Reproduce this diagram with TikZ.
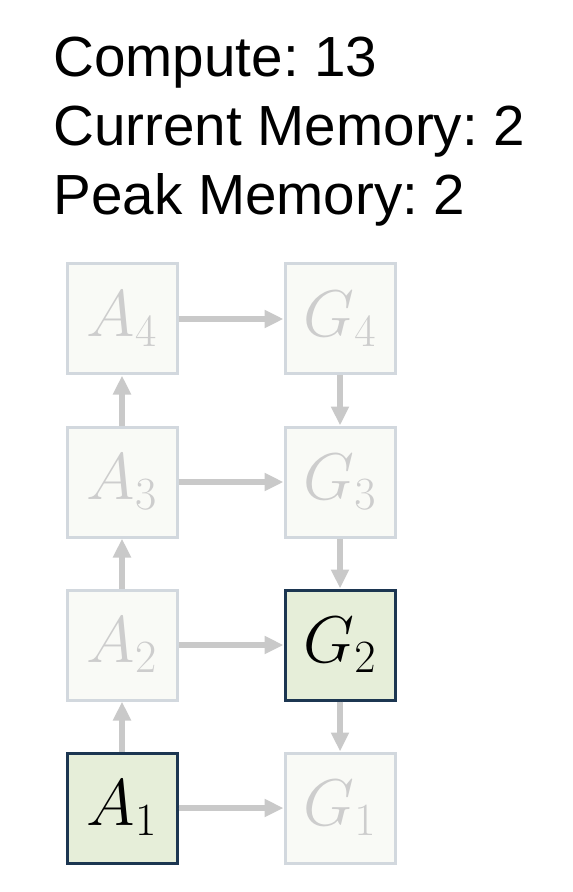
\RequirePackage{fix-cm}
\documentclass[tikz,border=0pt]{standalone}
\usepackage[no-math]{fontspec}
\setmainfont{Liberation Sans}
\frenchspacing
\usepackage{tikz}
\usetikzlibrary{arrows.meta,positioning}
\definecolor{fadefill}{HTML}{F9FAF6}
\definecolor{fadeline}{HTML}{D2D8DE}
\definecolor{fadetext}{HTML}{CDCDCD}
\definecolor{livefill}{HTML}{E6EED9}
\definecolor{liveline}{HTML}{1C3651}
\definecolor{flowgrey}{HTML}{C9C9C9}

\begin{document}
\begin{tikzpicture}[x=0.5pt,y=-0.5pt,>={Triangle[length=9.5pt,width=8.5pt]},
  cell/.style={draw=fadeline,fill=fadefill,text=fadetext,line width=1.5pt,
    minimum size=55pt,inner sep=0pt,font=\fontsize{33}{33}\selectfont},
  live/.style={cell,draw=liveline,fill=livefill,text=black},
  flow/.style={->,draw=flowgrey,fill=flowgrey,line width=2.75pt},
  counter/.style={anchor=base west,inner sep=0pt,font=\fontsize{28.3}{28.3}\selectfont},
  node distance=25pt and 52.5pt]
  \useasboundingbox (0,0) rectangle (572,892);

  % Counters
  \node[counter] (compute) at (53,77) {Compute: 13};
  \node[counter] (current) at (53,146) {Current Memory: 2};
  \node[counter] (peak) at (53,215) {Peak Memory: 2};

  % Forward column
  \node[live] (a1) at (122,808) {$A_1$};
  \node[cell,above=of a1] (a2) {$A_2$};
  \node[cell,above=of a2] (a3) {$A_3$};
  \node[cell,above=of a3] (a4) {$A_4$};

  % Backward column
  \node[cell,right=of a1] (g1) {$G_1$};
  \node[live,right=of a2] (g2) {$G_2$};
  \node[cell,right=of a3] (g3) {$G_3$};
  \node[cell,right=of a4] (g4) {$G_4$};

  % Arrows
  \draw[flow] (a1) -- (a2);
  \draw[flow] (a2) -- (a3);
  \draw[flow] (a3) -- (a4);
  \draw[flow] (a1) -- (g1);
  \draw[flow] (a2) -- (g2);
  \draw[flow] (a3) -- (g3);
  \draw[flow] (a4) -- (g4);
  \draw[flow] (g4) -- (g3);
  \draw[flow] (g3) -- (g2);
  \draw[flow] (g2) -- (g1);
\end{tikzpicture}
\end{document}
